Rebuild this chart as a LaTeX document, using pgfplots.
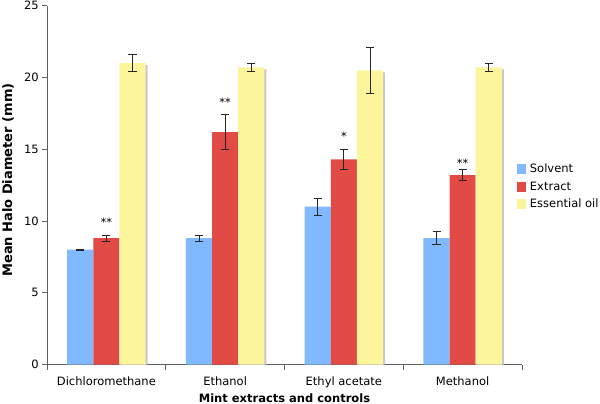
\documentclass[border=0pt]{standalone}
\usepackage{fontspec}
\setmainfont{DejaVu Sans}
\usepackage{pgfplots}
\pgfplotsset{compat=1.18}
\usepackage{pgfplotstable}

\definecolor{cS}{RGB}{128,185,255}
\definecolor{cE}{RGB}{226,74,70}
\definecolor{cO}{RGB}{252,245,155}
\definecolor{cSh}{RGB}{200,200,200}
\definecolor{cAx}{RGB}{95,95,95}

\newcommand\f{\fontsize{11.5bp}{13.5bp}\selectfont}
\newcommand\fy{\fontsize{13bp}{15bp}\selectfont}

\pgfplotstableread{
x S Se E Ee O Oe
0 8.0 0.03 8.8 0.2 21.0 0.6
1 8.8 0.2 16.2 1.2 20.7 0.3
2 11.0 0.6 14.3 0.7 20.5 1.6
3 8.8 0.45 13.2 0.4 20.7 0.25
}\data

\pgfplotsset{eb/.style={error bars/.cd, y dir=both, y explicit,
  error bar style={line width=0.9bp, color=black!85},
  error mark options={rotate=90, mark size=4bp, line width=0.9bp, color=black!85}}}

\begin{document}
\begin{tikzpicture}
\begin{axis}[
  scale only axis, width=475bp, height=358.75bp,
  ybar, bar width=0.22,
  xmin=-0.5, xmax=3.5, ymin=0, ymax=25,
  axis x line*=bottom, axis y line*=left,
  axis line style={-, draw=cAx, line width=0.9bp},
  xtick={-0.5,0.5,1.5,2.5,3.5}, xticklabels={},
  extra x ticks={0,1,2,3},
  extra x tick labels={Dichloromethane,Ethanol,Ethyl acetate,Methanol},
  extra x tick style={major tick length=0pt,
     tick label style={anchor=base, yshift=-20.5bp}},
  ytick={0,5,...,25},
  tick align=outside, major tick length=5bp,
  tick style={draw=cAx, line width=0.9bp},
  tick label style={font=\f},
  yticklabel style={anchor=east, inner sep=0pt, xshift=-3bp},
  /pgf/number format/assume math mode=true,
  every axis x label/.style={at={(axis description cs:0.5,0)}, anchor=base, yshift=-37.5bp, font=\f\bfseries},
  every axis y label/.style={at={(axis description cs:-0.0947,0.514)}, anchor=north, rotate=90, inner sep=0pt, font=\fy\bfseries},
  xlabel={Mint extracts and controls},
  ylabel={Mean Halo Diameter (mm)},
  legend style={at={(0.99,0.496)}, anchor=west, draw=none, fill=none, font=\f, row sep=3.5bp, inner sep=0pt,
     cells={anchor=west}},
  legend image code/.code={\fill[#1, draw=none] (0bp,-5bp) rectangle (8.5bp,5bp); \path (10.5bp,0bp);},
]
\coordinate (O) at (rel axis cs:0,0);
\addplot[fill=cS, draw=none, bar shift=-0.22, eb] table[x=x, y=S, y error=Se] {\data};
\addlegendentry{Solvent}
\addplot[fill=cE, draw=none, bar shift=0, eb] table[x=x, y=E, y error=Ee] {\data};
\addlegendentry{Extract}
\addplot[fill=cSh, draw=none, bar shift=0.22, forget plot] table[x expr=\thisrow{x}+0.018, y expr=\thisrow{O}-0.14] {\data};
\addplot[fill=cO, draw=none, bar shift=0.22, eb] table[x=x, y=O, y error=Oe] {\data};
\addlegendentry{Essential oil}
\addplot[draw=none, fill=none, bar shift=0, forget plot,
  point meta=explicit symbolic, nodes near coords,
  every node near coord/.append style={anchor=base, font=\f, inner sep=0pt}]
  coordinates {(0,9.65) [**] (1,18.0) [**] (2,15.6) [*] (3,13.7) [**]};
\end{axis}
\pgfresetboundingbox
\path (O) ++(-47bp,-39.5bp) rectangle ++(600bp,404bp);
\end{tikzpicture}
\end{document}
